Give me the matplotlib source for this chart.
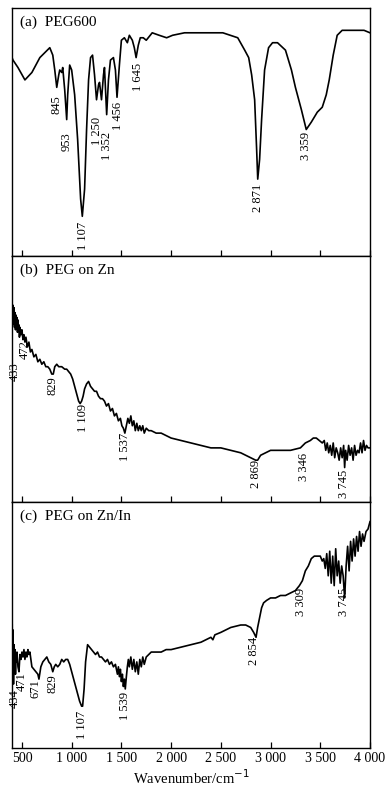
import matplotlib
matplotlib.use('Agg')
import matplotlib.pyplot as plt

plt.rcParams['font.family'] = ['Liberation Serif', 'DejaVu Serif']

# (a) PEG600
wn_a = [400, 410, 460, 530, 600, 680, 780, 810, 830, 850, 870, 880, 900, 910, 930, 950,
        960, 980, 1000, 1030, 1060, 1090, 1107, 1130, 1150, 1170, 1190, 1210, 1230, 1250,
        1270, 1280, 1300, 1320, 1330, 1352, 1370, 1390, 1420, 1440, 1456, 1480, 1500,
        1530, 1560, 1580, 1610, 1630, 1648, 1670, 1690, 1720, 1750, 1810, 1880, 1955,
        2015, 2135, 2285, 2520, 2670, 2740, 2780, 2810, 2840, 2860, 2871, 2890, 2910,
        2940, 2980, 3020, 3070, 3150, 3210, 3250, 3310, 3359, 3410, 3470, 3520, 3560,
        3590, 3630, 3670, 3720, 3840, 3940, 4000]
tr_a = [80, 79, 76, 71, 74, 80, 84, 81, 75, 68, 73, 75, 74, 76, 67, 55,
        65, 77, 75, 65, 47, 23, 16, 27, 51, 71, 80, 81, 73, 63,
        69, 70, 63, 73, 76, 57, 71, 79, 80, 75, 64, 77, 87,
        88, 86, 89, 87, 84, 80, 85, 88, 88, 87, 90, 89, 88,
        89, 90, 90, 90, 88, 83, 80, 73, 63, 43, 31, 39, 55,
        75, 84, 86, 86, 83, 75, 68, 59, 51, 54, 58, 60, 65,
        71, 81, 89, 91, 91, 91, 90]

# (b) PEG on Zn
wn_b = [400, 405, 410, 415, 420, 425, 430, 435, 440, 445, 450, 455, 460, 465, 470, 475,
        480, 490, 500, 510, 520, 530, 540, 555, 570, 585, 600, 620, 640, 660, 680, 700,
        720, 740, 760, 780, 800, 815, 830, 850, 870, 900, 930, 950, 970, 990, 1010, 1030,
        1050, 1070, 1085, 1100, 1115, 1130, 1150, 1170, 1190, 1210, 1230, 1250, 1270,
        1290, 1310, 1330, 1350, 1370, 1390, 1410, 1430, 1450, 1470, 1490, 1505, 1520,
        1535, 1550, 1565, 1580, 1595, 1610, 1625, 1640, 1655, 1670, 1685, 1700, 1715,
        1730, 1750, 1775, 1800, 1850, 1900, 1950, 2000, 2100, 2200, 2300, 2400, 2500,
        2600, 2700, 2800, 2850, 2870, 2900, 2950, 3000, 3100, 3200, 3300, 3350, 3400,
        3430, 3460, 3490, 3520, 3540, 3555, 3570, 3585, 3600, 3615, 3630, 3645, 3660,
        3675, 3690, 3705, 3720, 3735, 3745, 3755, 3770, 3785, 3800, 3815, 3830, 3845,
        3860, 3875, 3890, 3905, 3920, 3935, 3950, 3965, 3980, 4000]
tr_b = [78, 72, 80, 74, 79, 71, 77, 70, 76, 72, 75, 69, 74, 70, 72, 67,
        71, 68, 70, 66, 68, 65, 67, 63, 65, 61, 62, 59, 60, 57, 58, 56,
        57, 55, 55, 54, 52, 52, 55, 56, 55, 55, 54, 54, 53, 52, 50, 47,
        44, 41, 40, 41, 43, 46, 48, 49, 47, 46, 45, 45, 43,
        42, 42, 41, 39, 40, 37, 38, 35, 36, 33, 34, 31, 30,
        28, 31, 34, 32, 35, 31, 33, 29, 32, 29, 31, 29, 31,
        28, 30, 29, 29, 28, 28, 27, 26, 25, 24, 23, 22, 22,
        21, 20, 18, 17, 17, 19, 20, 21, 21, 21, 22, 24, 25,
        26, 26, 25, 24, 25, 21, 24, 20, 23, 19, 24, 18, 22,
        20, 17, 22, 18, 23, 14, 21, 17, 23, 19, 22, 17, 23,
        19, 21, 20, 24, 20, 25, 21, 23, 22, 22]

# (c) PEG on Zn/In
wn_c = [402, 405, 410, 415, 420, 425, 430, 435, 440, 445, 450, 460, 470, 480, 490, 500,
        510, 520, 530, 540, 550, 560, 570, 580, 590, 600, 620, 640, 660, 671, 690, 710,
        730, 750, 770, 790, 810, 825, 840, 860, 880, 900, 920, 940, 960, 980, 1000, 1020,
        1040, 1060, 1080, 1100, 1110, 1125, 1140, 1160, 1180, 1200, 1220, 1240, 1260,
        1280, 1300, 1320, 1340, 1360, 1380, 1400, 1420, 1440, 1460, 1470, 1480, 1490,
        1500, 1510, 1520, 1530, 1539, 1550, 1560, 1570, 1580, 1595, 1610, 1625, 1640,
        1655, 1670, 1685, 1700, 1715, 1730, 1750, 1775, 1800, 1850, 1900, 1950, 2000,
        2100, 2200, 2300, 2400, 2420, 2440, 2500, 2600, 2700, 2750, 2800, 2830, 2854,
        2870, 2890, 2910, 2930, 2960, 3000, 3050, 3100, 3150, 3200, 3250, 3290, 3320,
        3350, 3380, 3410, 3440, 3470, 3500, 3520, 3535, 3550, 3565, 3580, 3595, 3610,
        3625, 3640, 3655, 3670, 3685, 3700, 3715, 3730, 3745, 3760, 3775, 3790, 3805,
        3820, 3835, 3850, 3865, 3880, 3895, 3910, 3925, 3940, 3960, 3980, 4000]
tr_c = [50, 28, 48, 26, 42, 34, 40, 30, 38, 35, 39, 33, 31, 38, 36, 39,
        37, 40, 36, 39, 37, 40, 38, 39, 36, 33, 32, 31, 30, 28, 33, 35,
        36, 37, 35, 34, 31, 33, 34, 33, 34, 36, 35, 36, 36, 34, 31, 28,
        25, 22, 19, 17, 17, 24, 35, 42, 41, 40, 39, 38, 39,
        37, 37, 36, 35, 36, 34, 35, 33, 34, 30, 33, 29, 32,
        27, 30, 25, 28, 24, 29, 33, 36, 33, 37, 32, 36, 31,
        35, 30, 36, 33, 37, 34, 37, 38, 39, 39, 39, 40, 40,
        41, 42, 43, 45, 44, 46, 47, 49, 50, 50, 49, 47, 45,
        49, 53, 57, 59, 60, 61, 61, 62, 62, 63, 64, 66, 68,
        72, 74, 77, 78, 78, 78, 76, 77, 73, 79, 70, 80, 67,
        78, 66, 81, 70, 76, 67, 74, 70, 61, 74, 82, 72, 84,
        76, 85, 78, 86, 80, 88, 82, 87, 84, 88, 89, 92]

# peak labels: text, wavenumber, top of text
peaks_a = [('845', 851, 65), ('953', 951, 50), ('1 107', 1112, 14),
           ('1 250', 1252, 56), ('1 352', 1353, 50), ('1 456', 1463, 62),
           ('1 645', 1663, 78), ('2 871', 2877, 29), ('3 359', 3359, 50)]
peaks_b = [('433', 430, 57), ('472', 530, 66), ('829', 811, 51), ('1 109', 1112, 40),
           ('1 537', 1533, 28), ('2 869', 2857, 17), ('3 346', 3338, 20),
           ('3 745', 3740, 13)]
peaks_c = [('434', 430, 24), ('471', 500, 31), ('671', 640, 28), ('829', 811, 30),
           ('1 107', 1102, 15), ('1 539', 1533, 23), ('2 854', 2837, 45),
           ('3 309', 3308, 65), ('3 745', 3740, 65)]

panels = [
    ('(a)  PEG600', wn_a, tr_a, peaks_a),
    ('(b)  PEG on Zn', wn_b, tr_b, peaks_b),
    ('(c)  PEG on Zn/In', wn_c, tr_c, peaks_c),
]

fig = plt.figure(figsize=(3.87, 7.92), dpi=100)
left, width = 12 / 387, 358 / 387
boxes = [(8, 256), (256, 502), (502, 748)]
ticks = [500, 1000, 1500, 2000, 2500, 3000, 3500, 4000]
tick_labels = ['500', '1 000', '1 500', '2 000', '2 500', '3 000', '3 500', '4 000']

for i, (title, wn, tr, peaks) in enumerate(panels):
    top, bot = boxes[i]
    ax = fig.add_axes([left, 1 - bot / 792, width, (bot - top) / 792])
    ax.plot(wn, tr, color='black', lw=1.2)
    ax.set_xlim(400, 4000)
    ax.set_ylim(0, 100)
    ax.set_yticks([])
    ax.set_xticks(ticks)
    ax.tick_params(axis='x', direction='in', length=4, width=0.9, labelsize=10, pad=3)
    if i < 2:
        ax.set_xticklabels([])
    else:
        ax.set_xticklabels(tick_labels)
        ax.set_xlabel('Wavenumber/cm$^{-1}$', fontsize=10.5, labelpad=2)
    for sp in ax.spines.values():
        sp.set_linewidth(1.0)
    ax.text(0.022, 0.968, title, transform=ax.transAxes, ha='left', va='top', fontsize=11)
    for txt, x, y in peaks:
        ax.text(x, y, txt, rotation=90, ha='center', va='top', fontsize=9)

fig.savefig('out.png', dpi=100)
